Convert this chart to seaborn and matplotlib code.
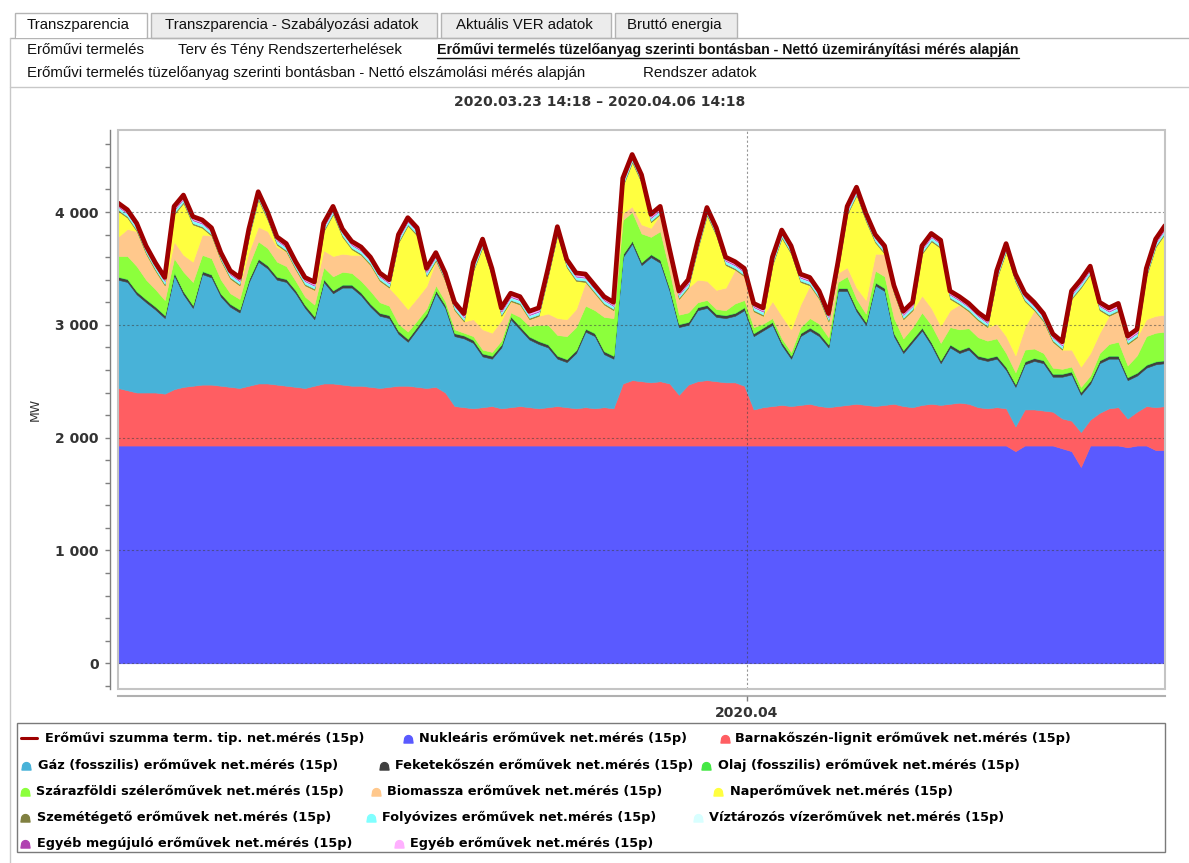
import numpy as np
import pandas as pd
import seaborn as sns
import matplotlib.pyplot as plt
import matplotlib.dates as mdates
from matplotlib.path import Path
from matplotlib.lines import Line2D
from matplotlib.patches import Rectangle
from matplotlib.ticker import MultipleLocator

sns.set_theme(style="white")
plt.rcParams['font.family'] = ['DejaVu Sans']

# 3-hourly readings, 2020-03-23 14:18 .. 2020-04-06 14:18, MW (one row = one day)
times = pd.date_range("2020-03-23 14:18", "2020-04-06 14:18", freq="3h")

nuclear = [1930, 1930, 1930, 1930, 1930, 1930, 1930, 1930,
           1930, 1930, 1930, 1930, 1930, 1930, 1930, 1930,
           1930, 1930, 1930, 1930, 1930, 1930, 1930, 1930,
           1930, 1930, 1930, 1930, 1930, 1930, 1930, 1930,
           1930, 1930, 1930, 1930, 1930, 1930, 1930, 1930,
           1930, 1930, 1930, 1930, 1930, 1930, 1930, 1930,
           1930, 1930, 1930, 1930, 1930, 1930, 1930, 1930,
           1930, 1930, 1930, 1930, 1930, 1930, 1930, 1930,
           1930, 1930, 1930, 1930, 1930, 1930, 1930, 1930,
           1930, 1930, 1930, 1930, 1930, 1930, 1930, 1930,
           1930, 1930, 1930, 1930, 1930, 1930, 1930, 1930,
           1930, 1930, 1930, 1930, 1930, 1930, 1930, 1930,
           1880, 1930, 1930, 1930, 1930, 1905, 1880, 1740,
           1930, 1930, 1930, 1930, 1915, 1930, 1930, 1890,
           1890]
lignite = [510, 490, 470, 470, 470, 460, 500, 520,
           530, 540, 540, 530, 520, 510, 530, 550,
           550, 540, 530, 520, 510, 530, 550, 550,
           540, 530, 530, 520, 510, 520, 530, 530,
           520, 510, 520, 470, 350, 340, 330, 340,
           350, 330, 340, 350, 340, 330, 340, 350,
           340, 330, 340, 330, 340, 330, 550, 580,
           570, 560, 570, 550, 450, 540, 570, 580,
           570, 560, 560, 530, 320, 340, 350, 360,
           350, 360, 370, 350, 340, 350, 360, 370,
           360, 350, 360, 370, 350, 340, 360, 370,
           360, 370, 380, 370, 340, 330, 340, 330,
           220, 320, 320, 310, 300, 265, 270, 310,
           230, 290, 330, 340, 255, 300, 350, 380,
           390]
gas = [960, 960, 870, 800, 735, 670, 1010, 820,
       690, 980, 950, 790, 710, 670, 920, 1080,
       1020, 930, 920, 830, 710, 590, 900, 800,
       860, 870, 800, 710, 640, 610, 460, 390,
       510, 635, 830, 750, 620, 610, 580, 450,
       420, 540, 780, 680, 600, 570, 530, 420,
       400, 490, 670, 640, 470, 440, 1120, 1210,
       1030, 1110, 1050, 820, 600, 530, 630, 640,
       570, 570, 590, 670, 650, 680, 720, 530,
       420, 610, 650, 620, 530, 1020, 1010, 820,
       710, 1070, 1010, 600, 470, 580, 660, 520,
       370, 500, 440, 480, 430, 420, 430, 340,
       350, 400, 430, 420, 310, 370, 410, 330,
       320, 440, 440, 430, 340, 320, 340, 380,
       380]
wind = [180, 200, 220, 170, 150, 130, 120, 170,
        200, 140, 140, 120, 90, 90, 120, 150,
        150, 130, 110, 80, 70, 100, 100, 120,
        110, 100, 100, 110, 90, 80, 60, 60,
        50, 40, 40, 30, 30, 20, 30, 30,
        30, 30, 30, 80, 90, 140, 170, 180,
        200, 200, 200, 200, 300, 330, 300, 250,
        250, 150, 250, 150, 80, 80, 40, 40,
        40, 40, 80, 60, 50, 30, 30, 30,
        30, 50, 80, 80, 60, 50, 100, 80,
        70, 100, 100, 130, 100, 100, 130, 150,
        150, 150, 180, 160, 160, 150, 150, 120,
        100, 100, 80, 60, 50, 40, 40, 40,
        40, 60, 100, 120, 100, 150, 250, 250,
        250]
biomass = [170, 240, 310, 230, 165, 130, 150, 150,
           180, 180, 200, 170, 130, 120, 120, 130,
           150, 130, 130, 100, 100, 130, 150, 180,
           160, 160, 230, 230, 190, 160, 230, 200,
           200, 200, 220, 180, 170, 100, 150, 180,
           170, 180, 100, 110, 60, 80, 100, 150,
           150, 160, 210, 150, 110, 70, 60, 50,
           80, 80, 150, 120, 140, 220, 200, 170,
           170, 200, 300, 210, 140, 70, 150, 200,
           200, 200, 290, 220, 140, 80, 80, 100,
           120, 150, 200, 220, 170, 150, 150, 150,
           150, 150, 220, 150, 150, 120, 130, 150,
           150, 200, 340, 280, 230, 170, 150, 180,
           200, 180, 250, 270, 190, 160, 150, 150,
           150]
solar = [230, 100, 0, 0, 0, 0, 240, 460,
         330, 60, 0, 0, 0, 0, 130, 240,
         100, 20, 0, 0, 0, 0, 170, 370,
         150, 50, 0, 0, 0, 0, 490, 740,
         550, 85, 0, 0, 0, 0, 430, 730,
         500, 40, 0, 0, 0, 0, 330, 740,
         460, 250, 0, 0, 0, 0, 240, 390,
         370, 50, 0, 0, 0, 0, 270, 580,
         480, 200, 0, 0, 0, 0, 320, 690,
         670, 200, 0, 0, 0, 20, 470, 820,
         700, 100, 0, 0, 0, 0, 370, 590,
         690, 100, 0, 0, 0, 0, 400, 750,
         650, 230, 0, 0, 0, 0, 450, 700,
         700, 200, 0, 0, 0, 0, 380, 610,
         720]
total = [4080, 4020, 3900, 3700, 3550, 3420, 4050, 4150,
         3960, 3930, 3860, 3640, 3480, 3420, 3850, 4180,
         4000, 3780, 3720, 3560, 3420, 3380, 3900, 4050,
         3850, 3740, 3690, 3600, 3460, 3400, 3800, 3950,
         3860, 3500, 3640, 3460, 3200, 3100, 3550, 3760,
         3500, 3150, 3280, 3250, 3120, 3150, 3500, 3870,
         3580, 3460, 3450, 3350, 3250, 3200, 4300, 4510,
         4330, 3980, 4050, 3670, 3300, 3400, 3740, 4040,
         3860, 3600, 3560, 3500, 3190, 3150, 3600, 3840,
         3700, 3450, 3420, 3300, 3100, 3550, 4050, 4220,
         3990, 3800, 3700, 3350, 3120, 3200, 3700, 3810,
         3750, 3300, 3250, 3190, 3110, 3050, 3480, 3720,
         3450, 3280, 3200, 3100, 2920, 2850, 3300, 3400,
         3520, 3200, 3150, 3190, 2900, 2960, 3500, 3760,
         3880]

# thin layers, one estimate per day
coal_daily = [25, 25, 25, 25, 25, 25, 25, 25, 25, 25, 25, 25, 25, 25, 25]
oil_daily = [5, 5, 5, 5, 5, 5, 5, 5, 5, 5, 5, 5, 5, 5, 5]
waste_daily = [12, 12, 12, 12, 12, 12, 12, 12, 12, 12, 12, 12, 12, 12, 12]
river_daily = [22, 22, 22, 22, 22, 22, 22, 22, 22, 22, 22, 22, 22, 22, 22]
reservoir_daily = [3, 3, 3, 3, 3, 3, 3, 3, 3, 3, 3, 3, 3, 3, 3]
other_ren_daily = [8, 8, 8, 8, 8, 8, 8, 8, 8, 8, 8, 8, 8, 8, 8]
other_daily = [25, 25, 25, 25, 25, 25, 25, 25, 25, 25, 25, 25, 25, 25, 25]

total_name = "Erőművi szumma term. tip. net.mérés (15p)"
series_names = ["Nukleáris erőművek net.mérés (15p)",
                "Barnakőszén-lignit erőművek net.mérés (15p)",
                "Gáz (fosszilis) erőművek net.mérés (15p)",
                "Feketekőszén erőművek net.mérés (15p)",
                "Olaj (fosszilis) erőművek net.mérés (15p)",
                "Szárazföldi szélerőművek net.mérés (15p)",
                "Biomassza erőművek net.mérés (15p)",
                "Naperőművek net.mérés (15p)",
                "Szemétégető erőművek net.mérés (15p)",
                "Folyóvizes erőművek net.mérés (15p)",
                "Víztározós vízerőművek net.mérés (15p)",
                "Egyéb megújuló erőművek net.mérés (15p)",
                "Egyéb erőművek net.mérés (15p)"]
series_colors = ["#5A5AFF", "#FF5E62", "#48B2D8", "#404040", "#44E844",
                 "#8CFF3C", "#FFC88C", "#FFFF40", "#808040", "#80FFFF",
                 "#D8FFFF", "#B040B0", "#FFB0FF"]
total_color = "#9E0000"

ytick_values = [0, 1000, 2000, 3000, 4000]
ytick_labels = ["0", "1 000", "2 000", "3 000", "4 000"]
xtick_dates = ["2020-04-01"]
xtick_labels = ["2020.04"]

tabs = ["Transzparencia", "Transzparencia - Szabályozási adatok",
        "Aktuális VER adatok", "Bruttó energia"]
title = "2020.03.23 14:18 – 2020.04.06 14:18"

n = len(times)
def per_step(daily):
    return np.repeat(daily, 8)[:n]

coal = per_step(coal_daily)
oil = per_step(oil_daily)
waste = per_step(waste_daily)
river = per_step(river_daily)
reservoir = per_step(reservoir_daily)
other_ren = per_step(other_ren_daily)
other = per_step(other_daily)

W, H = 1189, 863
fig = plt.figure(figsize=(W / 100, H / 100), dpi=100)
fig.patch.set_facecolor("white")

def fx(px):
    return px / W

def fy(py):
    return 1 - py / H

def put(px, py, s, **kw):
    return fig.text(fx(px), fy(py), s, **kw)

def hline(x0, x1, py, color, lw=1.0):
    fig.add_artist(Line2D([fx(x0), fx(x1)], [fy(py), fy(py)], color=color, lw=lw,
                          transform=fig.transFigure))

def vline(px, y0, y1, color, lw=1.0):
    fig.add_artist(Line2D([fx(px), fx(px)], [fy(y0), fy(y1)], color=color, lw=lw,
                          transform=fig.transFigure))

# ---- tab strip and link rows
tab_boxes = [(15, 147), (151, 437), (441, 611), (615, 737)]
tab_text_x = [27, 165, 456, 627]
for i, (x0, x1) in enumerate(tab_boxes):
    fc = "white" if i == 0 else "#ECECEC"
    fig.add_artist(Rectangle((fx(x0), fy(38)), (x1 - x0) / W, 25 / H, transform=fig.transFigure,
                             fc=fc, ec="#B4B4B4", lw=1.0))
    put(tab_text_x[i], 25, tabs[i], fontsize=10.8, family="Liberation Sans",
        va="center", ha="left", color="#111111")
hline(147, W, 38, "#B4B4B4")
hline(10, 15, 38, "#B4B4B4")
fig.add_artist(Rectangle((fx(16), fy(38.5)), 130 / W, 2 / H, transform=fig.transFigure,
                         fc="white", ec="none"))
vline(10, 38, H, "#C8C8C8")
hline(10, W, 87, "#C8C8C8")

lk = dict(fontsize=10.8, family="Liberation Sans", va="center", ha="left", color="#111111")
put(27, 50, "Erőművi termelés", **lk)
put(178, 50, "Terv és Tény Rendszerterhelések", **lk)
link = put(437, 50, "Erőművi termelés tüzelőanyag szerinti bontásban - Nettó üzemirányítási mérés alapján",
           fontsize=10.2, family="Liberation Sans", fontweight="bold", va="center", ha="left",
           color="#111111")
put(27, 73, "Erőművi termelés tüzelőanyag szerinti bontásban - Nettó elszámolási mérés alapján", **lk)
put(643, 73, "Rendszer adatok", **lk)

put(600, 102, title, fontsize=10, fontweight="bold", ha="center", va="center", color="#333333")

# ---- chart
ax = fig.add_axes([fx(118), fy(689), fx(1165) - fx(118), fy(130) - fy(689)])
ax.set_facecolor("white")
x = mdates.date2num(times.to_pydatetime())
layers = [nuclear, lignite, gas, coal, oil, wind, biomass, solar,
          waste, river, reservoir, other_ren, other]
ax.stackplot(x, *layers, colors=series_colors, linewidth=0.4, edgecolor="face")
sns.lineplot(x=x, y=total, color=total_color, linewidth=3.4, ax=ax)

ax.set_xlim(x[0], x[-1])
ax.set_ylim(-228, 4727)
ax.grid(True, which="major", axis="both", linestyle=(0, (2, 2)), color="#404040", alpha=0.55, lw=0.8)
ax.set_axisbelow(False)

for s in ["top", "right"]:
    ax.spines[s].set_visible(False)
ax.spines["left"].set_position(("outward", 5.5))
ax.spines["left"].set_color("#7F7F7F")
ax.spines["left"].set_linewidth(1)
ax.spines["bottom"].set_position(("outward", 5))
ax.spines["bottom"].set_color("#B0B0B0")
ax.spines["bottom"].set_linewidth(1.5)
ax.add_patch(Rectangle((0, 0), 1, 1, transform=ax.transAxes, fill=False, ec="#C4C4C4",
                       lw=1.5, clip_on=False, zorder=10))
ax.set_xlabel("")
ax.set_ylabel("MW", fontsize=9, color="#333333")
ax.yaxis.set_label_coords((42 - 118) / 1047, 0.5)

ax.tick_params(axis="y", which="both", left=True, length=3.5, width=1, color="#7F7F7F", pad=5,
               labelsize=10, labelcolor="#333333")
ax.tick_params(axis="x", which="major", bottom=True, length=3.5, width=1, color="#7F7F7F", pad=4,
               labelsize=10, labelcolor="#333333")
ax.yaxis.set_minor_locator(MultipleLocator(200))
ax.set_yticks(ytick_values, labels=ytick_labels, fontweight="bold")
ax.set_xticks([mdates.date2num(pd.Timestamp(d)) for d in xtick_dates], labels=xtick_labels,
              fontweight="bold")

# ---- legend (flow layout as in the source panel)
fig.add_artist(Rectangle((fx(17), fy(852)), (1165 - 17) / W, (852 - 723) / H,
                         transform=fig.transFigure, fc="white", ec="#7A7A7A", lw=1.0))
theta = np.linspace(0, np.pi, 24)
dome = Path(list(zip(np.cos(theta), np.sin(theta))) + [(-1.15, -0.9), (1.15, -0.9), (1, 0)],
            closed=True)
legend_layout = [  # (series index, marker x, text x, row y)
    (0, 408, 419, 738), (1, 725, 735, 738),
    (2, 26, 38, 765), (3, 384, 395, 765), (4, 706, 718, 765),
    (5, 25, 36, 791), (6, 376, 387, 791), (7, 718, 730, 791),
    (8, 25, 37, 817), (9, 371, 382, 817), (10, 698, 709, 817),
    (11, 25, 37, 843), (12, 399, 410, 843)]
lg = dict(fontsize=9.3, fontweight="bold", va="center", ha="left", color="black")
fig.add_artist(Line2D([fx(21), fx(37)], [fy(738), fy(738)], color=total_color, lw=2.2,
                      transform=fig.transFigure))
put(45, 738, total_name, **lg)
for idx, mx, tx, ry in legend_layout:
    fig.add_artist(Line2D([fx(mx)], [fy(ry + 1)], marker=dome, markersize=6.5, lw=0,
                          color=series_colors[idx], transform=fig.transFigure))
    put(tx, ry, series_names[idx], **lg)

# underline for the active link
fig.canvas.draw()
bb = link.get_window_extent()
hline(bb.x0, bb.x1, 58, "#111111", lw=1.0)
for t in ax.yaxis.get_majorticklabels() + ax.xaxis.get_majorticklabels():
    t.set_fontweight("bold")

fig.savefig("out.png", dpi=100, facecolor="white")
